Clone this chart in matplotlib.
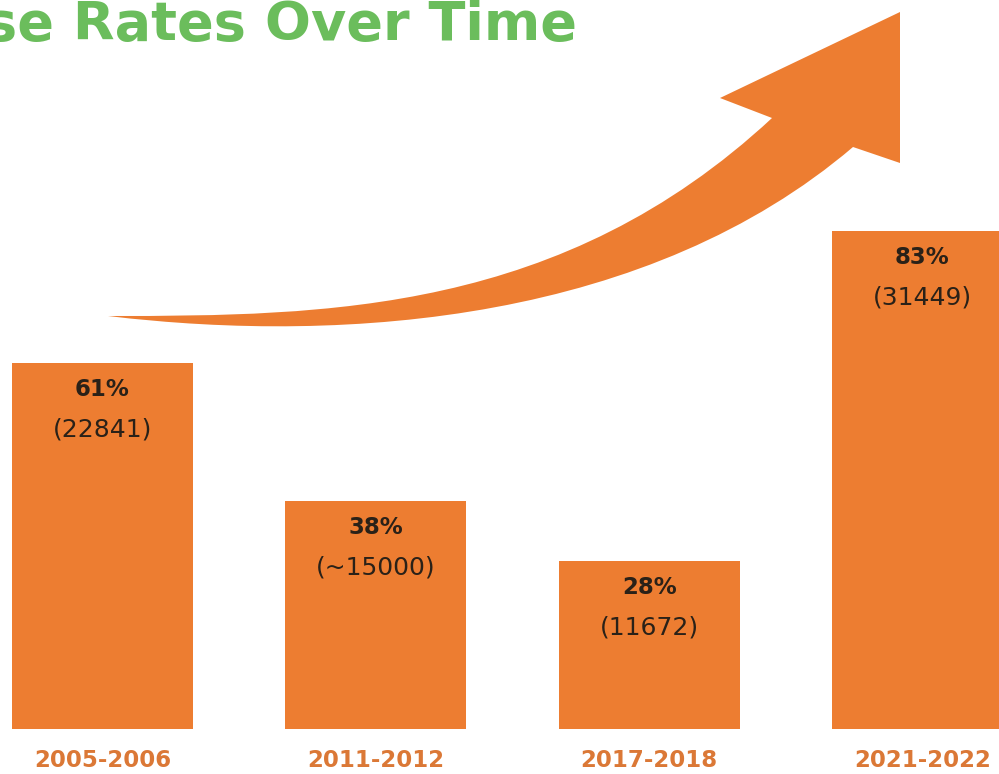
import matplotlib
matplotlib.use("Agg")
import matplotlib.pyplot as plt
from matplotlib.path import Path
from matplotlib.patches import PathPatch
from matplotlib.transforms import Affine2D

# Datos
periodos = ['2005-2006', '2011-2012', '2017-2018', '2021-2022']
tasas = [61, 38, 28, 83]
respuestas = ['(22841)', '(~15000)', '(11672)', '(31449)']
titulo = 'se Rates Over Time'

naranja = '#ED7D31'
verde = '#6BBD5C'

fig = plt.figure(figsize=(9.99, 7.74), dpi=100)
ax = fig.add_axes([0, 0, 1, 1])
ax.axis('off')

x = range(len(periodos))
ax.bar(x, tasas, width=0.663, color=naranja, zorder=2)
ax.set_xlim(-0.375, 3.28)
ax.set_ylim(-7.5, 121.5)

for i, (t, r) in enumerate(zip(tasas, respuestas)):
    ax.text(i, t - 4.5, f'{t}%', ha='center', va='center', fontsize=16.5,
            fontweight='bold', color='#2a2118', zorder=3)
    ax.text(i, t - 11, r, ha='center', va='center', fontsize=18,
            color='#2a2118', zorder=3)
    ax.text(i, -5.3, periodos[i], ha='center', va='center', fontsize=16.5,
            fontweight='bold', color='#DB7836')

# Titulo (cortado a la izquierda como en la imagen)
fig.text(577 / 999, 1 - 40 / 774, titulo, ha='right', va='baseline',
         fontsize=39, fontweight='bold', color=verde)

# Flecha curva decorativa, en pixeles de la figura
px = Affine2D().scale(1 / 999, -1 / 774).translate(0, 1) + fig.transFigure
verts = [(108, 316), (350, 345), (650, 320), (853, 147),
         (900, 163), (900, 12), (720, 98), (772, 118),
         (562, 313), (328, 316), (108, 316), (108, 316)]
codes = [Path.MOVETO, Path.CURVE4, Path.CURVE4, Path.CURVE4,
         Path.LINETO, Path.LINETO, Path.LINETO, Path.LINETO,
         Path.CURVE4, Path.CURVE4, Path.CURVE4, Path.CLOSEPOLY]
flecha = PathPatch(Path(verts, codes), facecolor=naranja, edgecolor='none',
                   transform=px)
fig.patches.append(flecha)

fig.savefig('out.png', dpi=100)
